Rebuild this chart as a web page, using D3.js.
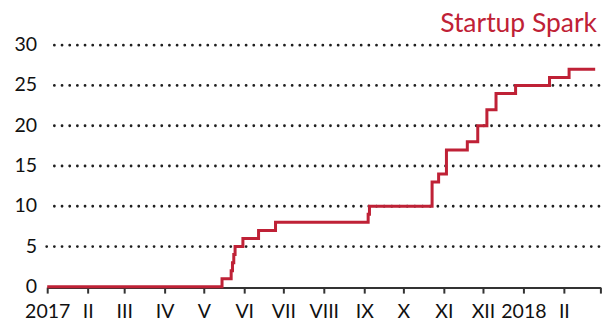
<!DOCTYPE html>
<html>
<head>
<meta charset="utf-8">
<script src="https://cdn.jsdelivr.net/npm/d3@7"></script>
<style>
  html, body { margin: 0; padding: 0; background: #fff; }
  svg { display: block; }
  text { font-family: Lato, "Open Sans", sans-serif; }
</style>
</head>
<body>
<svg id="chart" width="614" height="325"></svg>
<script>
// Cumulative count, stepping up on each date
const stepDates = [
  "2017-01-01", "2017-05-15", "2017-05-22", "2017-05-23", "2017-05-24",
  "2017-05-25", "2017-05-31", "2017-06-12", "2017-06-25", "2017-09-04",
  "2017-09-05", "2017-10-23", "2017-10-28", "2017-11-03", "2017-11-19",
  "2017-11-27", "2017-12-04", "2017-12-11", "2017-12-26", "2018-01-21",
  "2018-02-05", "2018-02-25"
];
const stepValues = [
  0, 1, 2, 3, 4,
  5, 6, 7, 8, 9,
  10, 13, 14, 17, 18,
  20, 22, 24, 25, 26,
  27, 27
];

// Month tick labels (Roman numerals, year at January)
const monthTicks = [
  "2017-01-01", "2017-02-01", "2017-03-01", "2017-04-01", "2017-05-01",
  "2017-06-01", "2017-07-01", "2017-08-01", "2017-09-01", "2017-10-01",
  "2017-11-01", "2017-12-01", "2018-01-01", "2018-02-01", "2018-03-01"
];
const monthLabels = [
  "2017", "II", "III", "IV", "V", "VI", "VII", "VIII", "IX", "X",
  "XI", "XII", "2018", "II", ""
];
const yTicks = [0, 5, 10, 15, 20, 25, 30];
const seriesName = "Startup Spark";

const parse = d3.utcParse("%Y-%m-%d");
const red = "#bf2136";

const svg = d3.select("#chart");

const x = d3.scaleUtc()
  .domain([parse("2017-01-01"), parse("2018-03-01")])
  .range([47.2, 600.4]);

const y = d3.scaleLinear()
  .domain([0, 30])
  .range([286.8, 45.2]);

// Dotted horizontal gridlines
const dotStep = 7.67;
const grid = svg.append("g");
grid.selectAll("line")
  .data(yTicks.filter(d => d > 0))
  .join("line")
  .attr("x1", d => x.range()[0] - 0.5 + (String(d).length > 1 ? dotStep : 0))
  .attr("x2", x.range()[1])
  .attr("y1", d => y(d))
  .attr("y2", d => y(d))
  .attr("stroke", "#1f1f1f")
  .attr("stroke-width", 2.8)
  .attr("stroke-linecap", "round")
  .attr("stroke-dasharray", `0 ${dotStep}`);

// Y tick labels
svg.append("g")
  .selectAll("text")
  .data(yTicks)
  .join("text")
  .attr("x", 37)
  .attr("y", d => y(d) - 1)
  .attr("dy", "0.36em")
  .attr("text-anchor", "end")
  .attr("font-size", 19.5)
  .attr("fill", "#111")
  .text(d => d);

// X axis
const xAxis = d3.axisBottom(x)
  .tickValues(monthTicks.map(parse))
  .tickSize(6)
  .tickSizeOuter(0)
  .tickFormat((d, i) => monthLabels[i]);

const gx = svg.append("g")
  .attr("transform", `translate(0,${y(0) + 0.8})`)
  .call(xAxis);
gx.select(".domain").attr("stroke", "#333").attr("stroke-width", 2);
gx.selectAll(".tick line").attr("stroke", "#333").attr("stroke-width", 2);
gx.selectAll(".tick text")
  .attr("y", 17)
  .attr("dy", "0.71em")
  .attr("font-family", "Lato, 'Open Sans', sans-serif")
  .attr("font-size", 19.5)
  .attr("fill", "#111");

// Step line
const points = stepDates.map((d, i) => ({ date: parse(d), value: stepValues[i] }));
const line = d3.line()
  .x(d => x(d.date))
  .y(d => y(d.value))
  .curve(d3.curveStepAfter);

svg.append("path")
  .datum(points)
  .attr("d", line)
  .attr("fill", "none")
  .attr("stroke", red)
  .attr("stroke-width", 3)
  .attr("stroke-linejoin", "miter");

// Series title, top right
const title = svg.append("text")
  .attr("x", 597)
  .attr("y", 32)
  .attr("text-anchor", "end")
  .attr("font-size", 24)
  .attr("fill", red)
  .text(seriesName);
const tw = title.node().getComputedTextLength();
title.attr("font-size", 24 * 157 / tw);
</script>
</body>
</html>
